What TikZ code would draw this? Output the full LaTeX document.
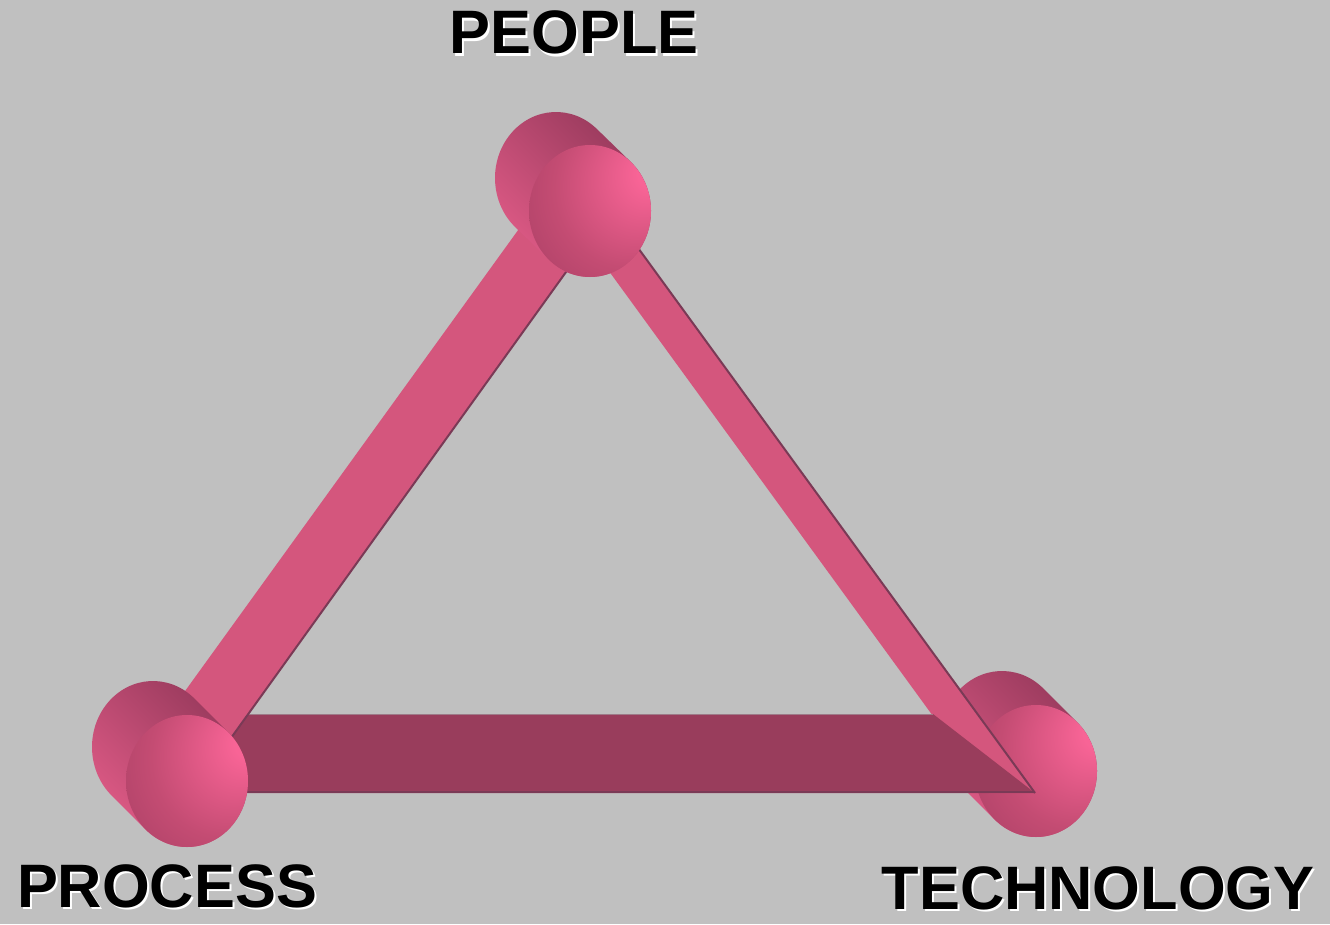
\documentclass[tikz,border=0pt]{standalone}
\usepackage{fontspec}
\setmainfont{Liberation Sans}
\usetikzlibrary{calc}

\definecolor{bggray}{RGB}{192,192,192}
\definecolor{beampink}{RGB}{212,86,125}
\definecolor{beamdark}{RGB}{153,61,92}
\definecolor{edgedark}{RGB}{122,58,86}
\definecolor{edgegray}{RGB}{158,122,136}
\definecolor{bodylt}{RGB}{226,92,136}
\definecolor{bodydk}{RGB}{148,56,90}
\definecolor{facehi}{RGB}{248,100,150}
\definecolor{facemid}{RGB}{196,76,115}
\definecolor{facedk}{RGB}{140,50,85}

\pgfdeclareradialshading{pivotface}{\pgfpoint{28bp}{16bp}}{color(0bp)=(facehi); color(6bp)=(facehi); color(30bp)=(facemid); color(66bp)=(facedk)}

\tikzset{every picture/.style={line width=0.75pt}}
\tikzset{
  lbl/.style={font=\fontsize{46}{46}\selectfont\bfseries, inner sep=0pt, anchor=base},
  beamedge/.style={draw=edgedark, line width=1.5pt},
}

% cylinder: #1 back centre, #2 front centre
\newcommand{\drawpivot}[2]{%
  \shade [top color=bodydk, bottom color=bodylt, shading angle=-45]
    ($(#1)+(-48.1:61 and 66)$) arc [start angle=-48.1, end angle=-228.1, x radius=61, y radius=66]
    -- ($(#2)+(131.9:61 and 66)$) arc [start angle=131.9, end angle=-48.1, x radius=61, y radius=66] -- cycle ;
  \shade [shading=pivotface] (#2) ellipse [x radius=61, y radius=66] ;
}

\begin{document}
\begin{tikzpicture}[x=0.75pt,y=0.75pt,yscale=-1,xscale=1]
\useasboundingbox (0,0) rectangle (1330,924);
\fill [bggray] (0,0) rectangle (1330,924);

\coordinate (topB) at (556,178);
\coordinate (topF) at (590,211);
\coordinate (leftB) at (153,747);
\coordinate (leftF) at (187,781);
\coordinate (rightB) at (1002,737);
\coordinate (rightF) at (1036,771);

%Cylinder right
\drawpivot{rightB}{rightF}

%Shape: right beam
\fill [beampink] (579,230) -- (625,230) -- (1035,793) -- (989,793) -- cycle ;
\draw [beamedge] (625,230) -- (1035,793) ;

%Shape: bottom beam
\fill [beamdark] (200,714) -- (933,714) -- (1035,793) -- (200,793) -- cycle ;
\draw [edgegray, line width=0.75pt] (200,714) -- (933,714) ;
\draw [edgedark, line width=2pt] (200,792) -- (1035,792) ;

%Shape: left beam
\fill [beampink] (529,215) -- (607,215) -- (208,770) -- (128,770) -- cycle ;
\draw [beamedge] (607,215) -- (208,770) ;

%Cylinders top and left
\drawpivot{topB}{topF}
\drawpivot{leftB}{leftF}

% Text Node
\node [lbl, text=white] (peopleshd) at (576,56) {PEOPLE};
\node [lbl] (people) at (574,54) {PEOPLE};
% Text Node
\node [lbl, text=white] (processshd) at (169,909) {PROCESS};
\node [lbl] (process) at (167,907) {PROCESS};
% Text Node
\node [lbl, text=white] (techshd) at (1100,911) {TECHNOLOGY};
\node [lbl] (tech) at (1098,909) {TECHNOLOGY};

\end{tikzpicture}
\end{document}
